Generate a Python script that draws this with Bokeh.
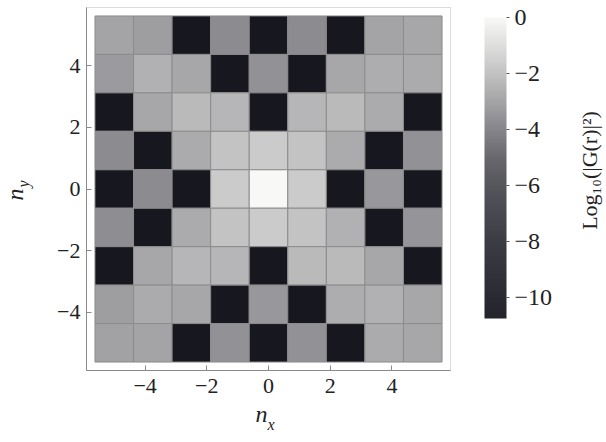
import numpy as np
from bokeh.plotting import figure
from bokeh.models import (ColumnDataSource, LinearColorMapper, ColorBar, FixedTicker,
                          Label, BoxAnnotation)
from bokeh.embed import file_html
from bokeh.resources import INLINE

# lattice coordinates (9 x 9 grid spanning -5..5)
nx_vals = [-5.0, -3.75, -2.5, -1.25, 0.0, 1.25, 2.5, 3.75, 5.0]
ny_vals = [5.0, 3.75, 2.5, 1.25, 0.0, -1.25, -2.5, -3.75, -5.0]  # rows top -> bottom

B = -12.0  # |G|^2 == 0 (below colour range, drawn black)
log_g2 = [
    [-3.0, -3.2, B, -3.8, B, -3.8, B, -3.0, -2.9],
    [-3.3, -2.6, -2.9, B, -3.6, B, -2.9, -2.7, -2.8],
    [B, -2.9, -2.3, -2.4, B, -2.4, -2.3, -2.8, B],
    [-3.8, B, -2.8, -2.0, -1.7, -2.0, -2.8, B, -3.6],
    [B, -3.8, B, -1.7, 0.0, -1.7, B, -3.4, B],
    [-3.7, B, -2.8, -2.0, -1.7, -2.0, -2.6, B, -3.5],
    [B, -2.9, -2.4, -2.4, B, -2.3, -2.3, -2.9, B],
    [-3.2, -2.8, -2.9, B, -3.4, B, -2.7, -2.6, -2.9],
    [-3.1, -3.0, B, -3.6, B, -3.6, B, -2.8, -2.9],
]

axis_ticks = [-4, -2, 0, 2, 4]
cbar_ticks = [-10, -8, -6, -4, -2, 0]
cbar_low, cbar_high = -10.75, 0.0
lim = 5.9  # plot-frame half width (data units)

def minus(t):
    return str(t).replace("-", "\u2212")

# build table
xs, ys, vs = [], [], []
for r, yv in enumerate(ny_vals):
    for c, xv in enumerate(nx_vals):
        xs.append(xv); ys.append(yv); vs.append(log_g2[r][c])
src = ColumnDataSource(dict(x=xs, y=ys, v=vs))

# grey-tone palette
a_v = [-10.75, -10, -8, -6, -5, -4, -3, -2, -1, 0]
a_c = ["#24242c", "#2a2a32", "#3c3c44", "#55555c", "#68686e", "#85858a",
       "#a4a4a7", "#c2c2c3", "#dededd", "#f8f8f6"]
def hex2rgb(h):
    return [int(h[i:i + 2], 16) for i in (1, 3, 5)]
rgb = np.array([hex2rgb(h) for h in a_c], dtype=float)
grid = np.linspace(cbar_low, cbar_high, 256)
pal = []
for g in grid:
    comp = [int(round(np.interp(g, a_v, rgb[:, k]))) for k in range(3)]
    pal.append("#%02x%02x%02x" % tuple(comp))

mapper = LinearColorMapper(palette=pal, low=cbar_low, high=cbar_high,
                           low_color="#17171f")

FONT = "Liberation Serif"
TXT = "#222222"
W, H = 604, 440
sx, sy = 30.85, 30.763  # px per data unit
x0 = -lim - 86 / sx
y1 = lim + 7 / sy

p = figure(output_backend="svg", toolbar_location=None, width=W, height=H,
           x_range=(x0, x0 + W / sx), y_range=(y1 - H / sy, y1),
           min_border=0)
p.outline_line_color = None
p.xgrid.visible = False
p.ygrid.visible = False

p.rect(x="x", y="y", width=1.25, height=1.25, source=src,
       fill_color={"field": "v", "transform": mapper},
       line_color="#8c8c8c", line_width=1)

p.add_layout(BoxAnnotation(left=-lim, right=lim, bottom=-lim, top=lim,
                           fill_color=None, line_color="#8a8a8a", line_width=1))

p.xaxis.fixed_location = -lim
p.yaxis.fixed_location = -lim
for ax in (p.xaxis[0], p.yaxis[0]):
    ax.bounds = (-lim, lim)
    ax.ticker = FixedTicker(ticks=axis_ticks)
    ax.major_label_overrides = {t: minus(t) for t in axis_ticks}
    ax.major_label_text_font = FONT
    ax.major_label_text_font_size = "22px"
    ax.major_label_text_color = TXT
    ax.axis_line_color = "#8a8a8a"
    ax.major_tick_line_color = "#8a8a8a"
    ax.major_tick_in = 5
    ax.major_tick_out = 0
    ax.minor_tick_line_color = None
p.xaxis.major_label_standoff = 8
p.yaxis.major_label_standoff = 6

cb = ColorBar(color_mapper=mapper, width=22, height=301,
              ticker=FixedTicker(ticks=cbar_ticks),
              major_label_overrides={t: minus(t) for t in cbar_ticks},
              major_label_text_font=FONT, major_label_text_font_size="24px",
              major_label_text_color=TXT,
              major_tick_line_color="#555555", major_tick_out=3, major_tick_in=0,
              label_standoff=5, padding=0, margin=0,
              bar_line_color=None, border_line_color=None,
              background_fill_color=None,
              location=(484, H - 318))
p.add_layout(cb)

# axis titles (italic n with subscript) and colour-bar title
p.add_layout(Label(x=-0.422, y=-7.752, text="n", text_font=FONT,
                   text_font_style="italic", text_font_size="24px", text_color=TXT))
p.add_layout(Label(x=-0.033, y=-7.947, text="x", text_font=FONT,
                   text_font_style="italic", text_font_size="16px", text_color=TXT))
p.add_layout(Label(x=x0 + 27 / sx, y=-0.373, text="n", angle=np.pi / 2, text_font=FONT,
                   text_font_style="italic", text_font_size="24px", text_color=TXT))
p.add_layout(Label(x=x0 + 31 / sx, y=0.049, text="y", angle=np.pi / 2, text_font=FONT,
                   text_font_style="italic", text_font_size="16px", text_color=TXT))
p.add_layout(Label(x=x0 + 589 / sx, y=y1 - 170 / sy, text="Log\u2081\u2080(|G(r)|\u00b2)",
                   angle=np.pi / 2, text_align="center", text_baseline="middle",
                   text_font=FONT, text_font_size="22px", text_color=TXT))

open("out.html", "w").write(file_html(p, INLINE))
